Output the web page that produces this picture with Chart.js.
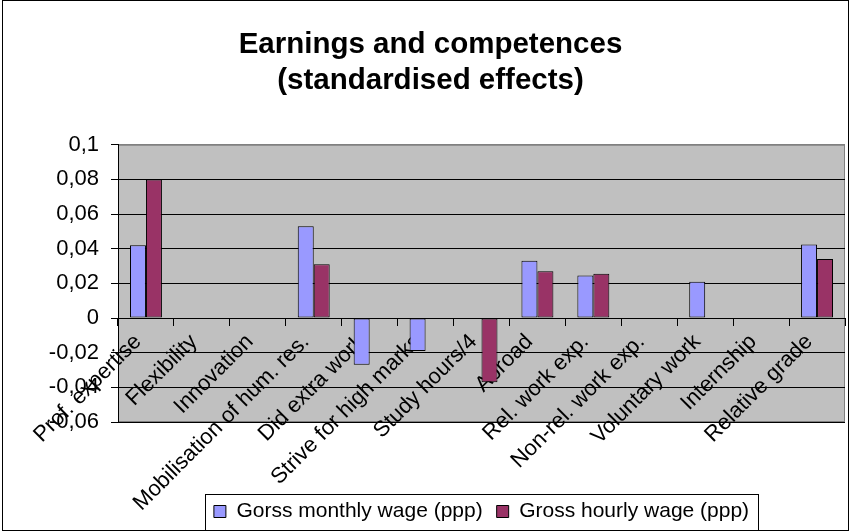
<!DOCTYPE html>
<html><head><meta charset="utf-8">
<script src="https://cdn.jsdelivr.net/npm/chart.js@4/dist/chart.umd.min.js"></script>
<style>html,body{margin:0;padding:0;background:#fff}</style>
</head><body>
<canvas id="c" width="850" height="532"></canvas>
<script>
const categories = ['Prof. expertise','Flexibility','Innovation','Mobilisation of hum. res.','Did extra work','Strive for high marks','Study hours/4','Abroad','Rel. work exp.','Non-rel. work exp.','Voluntary work','Internship','Relative grade'];
const monthly = [0.042, null, null, 0.053, -0.027, -0.019, null, 0.033, 0.0245, null, 0.021, null, 0.0425];
const hourly  = [0.080, null, null, 0.031, null, null, -0.037, 0.027, 0.0255, null, null, null, 0.034];
const yTickLabels = ['-0,06','-0,04','-0,02','0','0,02','0,04','0,06','0,08','0,1'];
const seriesNames = ['Gorss monthly wage (ppp)', 'Gross hourly wage (ppp)'];
const titleLines = ['Earnings and competences', '(standardised effects)'];

Chart.defaults.font.family = "'Liberation Sans', Arial, sans-serif";
Chart.defaults.color = '#000';

const frame = {
  id: 'frame',
  beforeDraw(chart) {
    const {ctx, chartArea: a} = chart;
    ctx.save();
    ctx.fillStyle = '#fff'; ctx.fillRect(0, 0, chart.width, chart.height);
    ctx.fillStyle = '#C0C0C0'; ctx.fillRect(a.left, a.top, a.right - a.left, a.bottom - a.top);
    ctx.strokeStyle = '#808080'; ctx.lineWidth = 1;
    ctx.strokeRect(a.left + 0.5, a.top + 0.5, a.right - a.left - 1, a.bottom - a.top - 1);
    ctx.restore();
  },
  afterDraw(chart) {
    const ctx = chart.ctx;
    ctx.save();
    ctx.strokeStyle = '#000'; ctx.lineWidth = 1;
    ctx.strokeRect(2.5, 0.5, 846, 530);
    const lg = chart.legend;
    if (lg && lg.legendHitBoxes && lg.legendHitBoxes.length) {
      const hb = lg.legendHitBoxes;
      const l = hb[0].left - 9;
      const r = hb[hb.length - 1].left + hb[hb.length - 1].width + 9;
      const cy = hb[0].top + hb[0].height / 2;
      ctx.strokeRect(Math.round(l) + 0.5, Math.round(cy - 18) + 0.5, Math.round(r - l), 36);
    }
    ctx.restore();
  }
};

new Chart(document.getElementById('c'), {
  type: 'bar',
  data: {
    labels: categories,
    datasets: [
      {label: seriesNames[0], data: monthly, backgroundColor: '#9999FF', borderColor: '#000', borderWidth: 1, borderSkipped: false},
      {label: seriesNames[1], data: hourly, backgroundColor: '#993366', borderColor: '#000', borderWidth: 1, borderSkipped: false}
    ]
  },
  options: {
    responsive: false,
    animation: false,
    devicePixelRatio: 1,
    layout: {padding: {left: 16, right: 5, top: 0, bottom: 0}},
    datasets: {bar: {categoryPercentage: 0.5714, barPercentage: 1.0}},
    plugins: {
      tooltip: {enabled: false},
      title: {
        display: true, text: titleLines, color: '#000',
        font: {size: 29.5, weight: 'bold', lineHeight: 1.25},
        padding: {top: 26, bottom: 45}
      },
      legend: {
        position: 'bottom', fullSize: false,
        labels: {boxWidth: 12, boxHeight: 12, padding: 14, color: '#000', font: {size: 21}}
      }
    },
    scales: {
      x: {
        position: {y: 0},
        grid: {drawOnChartArea: false, drawTicks: true, tickLength: 7, color: '#000', offset: true},
        border: {display: true, color: '#000'},
        ticks: {minRotation: 45, maxRotation: 45, autoSkip: false, padding: 4, labelOffset: -8, color: '#000', font: {size: 22}}
      },
      xSpace: {
        type: 'category', position: 'bottom', display: true,
        grid: {display: false}, border: {display: false}, ticks: {display: false},
        afterFit(s) { s.height = 65; }
      },
      y: {
        min: -0.06, max: 0.1,
        ticks: {stepSize: 0.02, padding: 12, color: '#000', font: {size: 22}, callback: (v, i) => yTickLabels[i]},
        grid: {color: c => (c.tick && c.tick.value > 0.099) ? '#808080' : '#000', tickColor: '#000', tickLength: 7},
        border: {color: '#000'},
        afterFit(s) { s.width = 102; }
      }
    }
  },
  plugins: [frame]
});
</script>
</body></html>
